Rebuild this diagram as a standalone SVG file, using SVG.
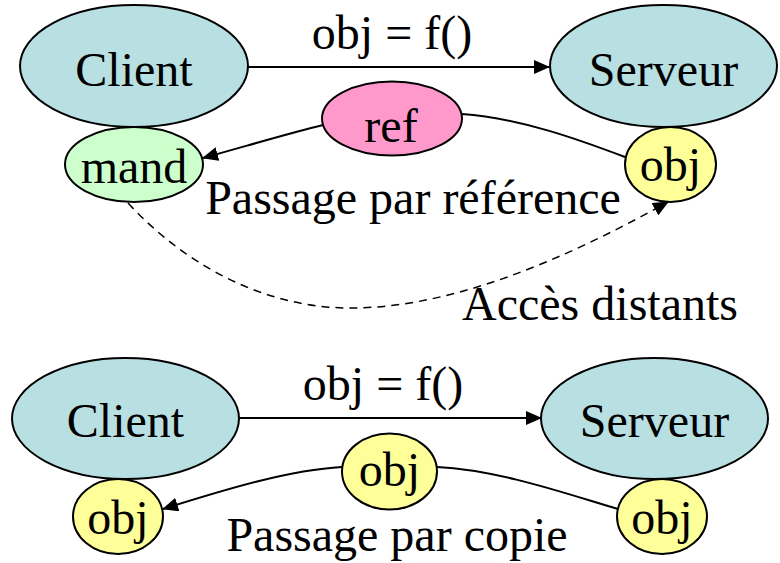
<svg xmlns="http://www.w3.org/2000/svg" width="780" height="563" viewBox="0 0 780 563">
  <style>
    .node { stroke: #000; stroke-width: 2; }
    .host { fill: #b8dfe2; }
    .stub { fill: #ccffcc; }
    .ref { fill: #ff99cc; }
    .obj { fill: #ffff99; }
    text { font-family: "Liberation Serif", "Times New Roman", serif; font-size: 48px; fill: #000; text-anchor: middle; }
    .edge { fill: none; stroke: #000; stroke-width: 2; }
    .dash { stroke-dasharray: 8 6; stroke-width: 1.5; }
  </style>
  <defs>
    <marker id="arrow" viewBox="0 0 16 14" refX="15" refY="7" markerWidth="16" markerHeight="14" markerUnits="userSpaceOnUse" orient="auto">
      <path d="M0,0 L16,7 L0,14 Z" fill="#000"/>
    </marker>
  </defs>

  <rect width="780" height="563" fill="#fff"/>

  <!-- connectors -->
  <g id="connectors">
    <!-- pass by reference -->
    <path class="edge" d="M248,67 L549,67" marker-end="url(#arrow)"/>
    <path class="edge" d="M625,157 C580,140 520,118 462,114"/>
    <path class="edge" d="M323,125 C290,133 250,145 203,158" marker-end="url(#arrow)"/>
    <path class="edge dash" d="M128,203 C190,270 270,308 350,308 C450,308 560,262 668,202" marker-end="url(#arrow)"/>
    <!-- pass by copy -->
    <path class="edge" d="M618,509 C570,495 500,470 437,467"/>
    <path class="edge" d="M342,467 C290,470 230,488 163,509" marker-end="url(#arrow)"/>
    <path class="edge" d="M239,418 L541,418" marker-end="url(#arrow)"/>
  </g>

  <!-- labels -->
  <g id="labels">
    <text x="392" y="49">obj = f()</text>
    <text x="413" y="214">Passage par référence</text>
    <text x="600" y="320">Accès distants</text>
    <text x="383" y="400">obj = f()</text>
    <text x="397" y="551">Passage par copie</text>
  </g>

  <!-- top: pass by reference -->
  <g id="client1">
    <ellipse class="node host" cx="134" cy="66" rx="114" ry="61"/>
    <text x="134" y="86">Client</text>
  </g>
  <g id="serveur1">
    <ellipse class="node host" cx="663.5" cy="66" rx="113.5" ry="61"/>
    <text x="663.5" y="86">Serveur</text>
  </g>
  <g id="mand">
    <ellipse class="node stub" cx="134" cy="164.5" rx="69" ry="37.5"/>
    <text x="134" y="183">mand</text>
  </g>
  <g id="ref">
    <ellipse class="node ref" cx="392" cy="118.5" rx="70" ry="37"/>
    <text x="391" y="142">ref</text>
  </g>
  <g id="obj1">
    <ellipse class="node obj" cx="670.5" cy="164.5" rx="45.5" ry="37.5"/>
    <text x="670.5" y="181">obj</text>
  </g>

  <!-- bottom: pass by copy -->
  <g id="client2">
    <ellipse class="node host" cx="125.5" cy="418.5" rx="113.5" ry="60.5"/>
    <text x="125.5" y="437">Client</text>
  </g>
  <g id="serveur2">
    <ellipse class="node host" cx="654.5" cy="418.5" rx="113.5" ry="60.5"/>
    <text x="654.5" y="437">Serveur</text>
  </g>
  <g id="obj2">
    <ellipse class="node obj" cx="389.5" cy="471.5" rx="47.5" ry="38"/>
    <text x="389.5" y="486">obj</text>
  </g>
  <g id="obj3">
    <ellipse class="node obj" cx="118" cy="516.5" rx="45" ry="37.5"/>
    <text x="118" y="534">obj</text>
  </g>
  <g id="obj4">
    <ellipse class="node obj" cx="662" cy="516.5" rx="45" ry="37.5"/>
    <text x="662" y="534">obj</text>
  </g>
</svg>
